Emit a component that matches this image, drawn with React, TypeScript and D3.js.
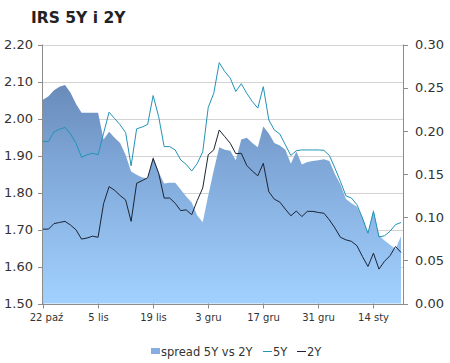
import React from "react";
import * as d3 from "d3";

const rate5Y = [
  1.938, 1.938, 1.964, 1.971, 1.976, 1.958, 1.933, 1.895, 1.902, 1.906,
  1.902, 1.960, 2.017, 2.000, 1.983, 1.962, 1.872, 1.972, 1.977, 1.984,
  2.062, 2.005, 1.924, 1.924, 1.915, 1.888, 1.876, 1.858, 1.878, 1.910,
  2.030, 2.068, 2.151, 2.127, 2.109, 2.073, 2.094, 2.068, 2.046, 2.028,
  2.086, 1.996, 1.969, 1.958, 1.929, 1.900, 1.913, 1.915, 1.915, 1.915,
  1.915, 1.914, 1.900, 1.866, 1.830, 1.791, 1.785, 1.767, 1.731, 1.690,
  1.749, 1.680, 1.683, 1.695, 1.713, 1.719,
];

const rate2Y = [
  1.701, 1.701, 1.716, 1.719, 1.722, 1.712, 1.699, 1.674, 1.677, 1.682,
  1.679, 1.770, 1.816, 1.806, 1.792, 1.780, 1.722, 1.825, 1.832, 1.840,
  1.892, 1.852, 1.785, 1.785, 1.771, 1.751, 1.753, 1.740, 1.778, 1.812,
  1.902, 1.915, 1.969, 1.951, 1.933, 1.905, 1.906, 1.873, 1.858, 1.845,
  1.879, 1.802, 1.782, 1.774, 1.755, 1.737, 1.750, 1.735, 1.749, 1.749,
  1.746, 1.744, 1.726, 1.704, 1.679, 1.672, 1.668, 1.656, 1.627, 1.600,
  1.636, 1.593, 1.614, 1.629, 1.654, 1.638,
];

const spread = [
  0.236, 0.240, 0.247, 0.251, 0.253, 0.244, 0.231, 0.221, 0.221, 0.221,
  0.221, 0.190, 0.199, 0.192, 0.186, 0.172, 0.153, 0.149, 0.146, 0.145,
  0.170, 0.152, 0.139, 0.140, 0.140, 0.132, 0.124, 0.117, 0.102, 0.094,
  0.125, 0.154, 0.181, 0.178, 0.177, 0.166, 0.190, 0.192, 0.186, 0.181,
  0.205, 0.197, 0.186, 0.183, 0.178, 0.162, 0.176, 0.161, 0.164, 0.165,
  0.166, 0.167, 0.165, 0.150, 0.138, 0.121, 0.116, 0.112, 0.100, 0.082,
  0.109, 0.079, 0.073, 0.068, 0.063, 0.078,
];

// x tick labels every 10 sessions
const tickLabels = ["22 paź", "5 lis", "19 lis", "3 gru", "17 gru", "31 gru", "14 sty"];
const tickEvery = 10;

const leftTicks = [1.5, 1.6, 1.7, 1.8, 1.9, 2.0, 2.1, 2.2];
const rightTicks = [0, 0.05, 0.1, 0.15, 0.2, 0.25, 0.3];

const FONT = "'DejaVu Sans', Verdana, sans-serif";

export default function App() {
  const W = 450, H = 363;
  const left = 43, right = 403, top = 44.5, bottom = 303.5;
  const n = rate5Y.length;
  const idx = d3.range(n);

  const x = d3.scaleLinear().domain([0, n - 1]).range([left, 401]);
  const yL = d3.scaleLinear().domain([1.5, 2.2]).range([bottom, top]);
  const yR = d3.scaleLinear().domain([0, 0.3]).range([bottom, top]);

  const area = d3
    .area<number>()
    .x((i) => x(i))
    .y0(bottom)
    .y1((i) => yR(spread[i]));
  const line5 = d3
    .line<number>()
    .x((i) => x(i))
    .y((i) => yL(rate5Y[i]));
  const line2 = d3
    .line<number>()
    .x((i) => x(i))
    .y((i) => yL(rate2Y[i]));

  const axisColor = "#8c8c8c";
  const textColor = "#333";

  return (
    <svg width={W} height={H} style={{ display: "block", position: "absolute", left: 0, top: 0 }}>
      <defs>
        <linearGradient id="spreadGrad" gradientUnits="userSpaceOnUse" x1="0" y1={top} x2="0" y2={bottom}>
          <stop offset="0%" stopColor="#5d7dab" />
          <stop offset="45%" stopColor="#7ea6d6" />
          <stop offset="100%" stopColor="#a2d1ff" />
        </linearGradient>
      </defs>
      <rect x={0} y={0} width={W} height={H} fill="#fff" />
      <text x={31} y={23} fontFamily={FONT} fontWeight="bold" fontSize={15.5} fill="#222">
        IRS 5Y i 2Y
      </text>

      {/* gridlines */}
      {leftTicks.map((t) => (
        <line
          key={"g" + t}
          x1={left}
          x2={right}
          y1={Math.round(yL(t)) + 0.5}
          y2={Math.round(yL(t)) + 0.5}
          stroke="#d3d3d3"
          strokeWidth={1}
        />
      ))}

      <path d={area(idx) || ""} fill="url(#spreadGrad)" />
      <path d={line5(idx) || ""} fill="none" stroke="#2393b8" strokeWidth={1} />
      <path d={line2(idx) || ""} fill="none" stroke="#1b2434" strokeWidth={1} />

      {/* axes */}
      <line x1={left - 0.5} x2={left - 0.5} y1={top} y2={bottom + 0.5} stroke={axisColor} />
      <line x1={right + 0.5} x2={right + 0.5} y1={top} y2={bottom + 0.5} stroke={axisColor} />
      <line x1={left - 0.5} x2={right + 0.5} y1={Math.round(bottom) + 0.5} y2={Math.round(bottom) + 0.5} stroke={axisColor} />

      {leftTicks.map((t) => (
        <g key={"l" + t}>
          <line x1={left - 5} x2={left} y1={Math.round(yL(t)) + 0.5} y2={Math.round(yL(t)) + 0.5} stroke={axisColor} />
          <text x={33} y={yL(t)} dy="0.36em" textAnchor="end" fontFamily={FONT} fontSize={13} fill={textColor}>
            {t.toFixed(2)}
          </text>
        </g>
      ))}
      {rightTicks.map((t) => (
        <g key={"r" + t}>
          <line x1={right} x2={right + 5} y1={Math.round(yR(t)) + 0.5} y2={Math.round(yR(t)) + 0.5} stroke={axisColor} />
          <text x={415} y={yR(t)} dy="0.36em" textAnchor="start" fontFamily={FONT} fontSize={13} fill={textColor}>
            {t.toFixed(2)}
          </text>
        </g>
      ))}
      {tickLabels.map((lab, k) => {
        const xi = Math.round(x(k * tickEvery)) + 0.5;
        return (
          <g key={"x" + k}>
            <line x1={xi} x2={xi} y1={bottom} y2={bottom + 5} stroke={axisColor} />
            <text x={xi + (k === 0 ? 3 : 0)} y={321} textAnchor="middle" fontFamily={FONT} fontSize={10} fill={textColor}>
              {lab}
            </text>
          </g>
        );
      })}

      {/* legend */}
      <rect x={151} y={348} width={9} height={6} fill="#86aee0" />
      <text x={161} y={356} fontFamily={FONT} fontSize={11.5} fill={textColor}>
        spread 5Y vs 2Y
      </text>
      <line x1={263} x2={272} y1={351.5} y2={351.5} stroke="#2393b8" strokeWidth={1} />
      <text x={273} y={356} fontFamily={FONT} fontSize={11.5} fill={textColor}>
        5Y
      </text>
      <line x1={297} x2={306} y1={351.5} y2={351.5} stroke="#1b2434" strokeWidth={1} />
      <text x={307} y={356} fontFamily={FONT} fontSize={11.5} fill={textColor}>
        2Y
      </text>
    </svg>
  );
}
